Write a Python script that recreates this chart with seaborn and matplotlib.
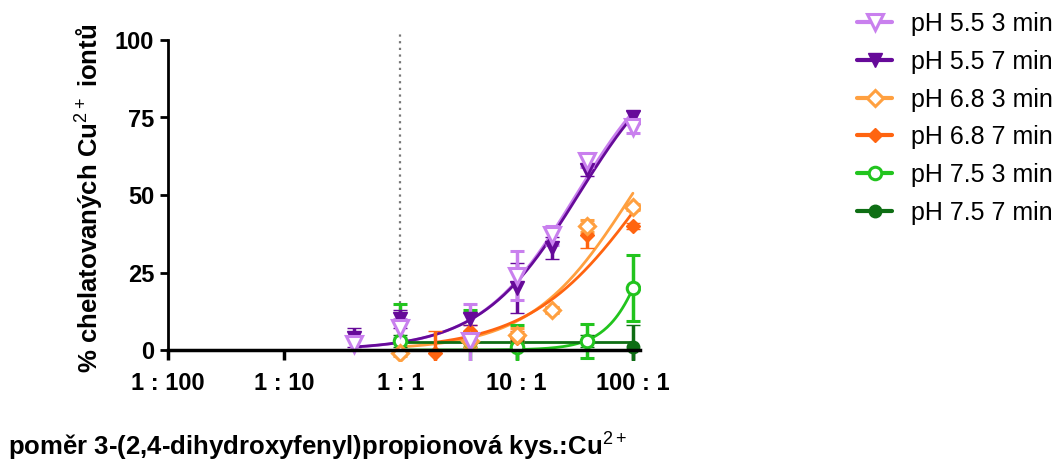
import numpy as np
import matplotlib
matplotlib.use("Agg")
import matplotlib.pyplot as plt
from matplotlib.lines import Line2D
import seaborn as sns

# ---- data (ratio acid:Cu2+, % chelated) ----
labels = ["pH 5.5 3 min", "pH 5.5 7 min", "pH 6.8 3 min",
          "pH 6.8 7 min", "pH 7.5 3 min", "pH 7.5 7 min"]

x_55_3 = [0.4, 1, 4, 10, 20, 40, 100]
y_55_3 = [2, 7, 3, 24, 37, 61, 72]
e_55_3 = [2, 3, 12, 8, 3, 2, 2]

x_55_7 = [0.4, 1, 4, 10, 20, 40, 100]
y_55_7 = [4, 10, 10, 20, 33, 58, 75]
e_55_7 = [3, 3, 2, 8, 3.5, 2, 2]

x_68_3 = [1, 4, 10, 20, 40, 100]
y_68_3 = [-1, 3, 5, 13, 40, 46]
e_68_3 = [1, 2, 2, 1, 2, 1]

x_68_7 = [2, 4, 10, 20, 40, 100]
y_68_7 = [-1, 6, 4, 13, 37, 40]
e_68_7 = [7, 2, 2, 1, 4, 1]

x_75_3 = [1, 4, 10, 40, 100]
y_75_3 = [3, 3, 1, 3, 20]
e_75_3 = [12, 10, 7, 5.5, 10.5]

x_75_7 = [1, 4, 10, 40, 100]
y_75_7 = [3, 3, 3, 3, 1]
e_75_7 = [2, 2, 2, 2, 7]

xs = [x_55_3, x_55_7, x_68_3, x_68_7, x_75_3, x_75_7]
ys = [y_55_3, y_55_7, y_68_3, y_68_7, y_75_3, y_75_7]
es = [e_55_3, e_55_7, e_68_3, e_68_7, e_75_3, e_75_7]
models = ["hill", "hill", "hill", "hill", "hill", "const"]

xtick_vals = [0.01, 0.1, 1, 10, 100]
xtick_labels = ["1 : 100", "1 : 10", "1 : 1", "10 : 1", "100 : 1"]
ytick_vals = [0, 25, 50, 75, 100]

# ---- styles ----
colors = ["#C980EE", "#660A99", "#FFA040", "#FF6410", "#22C41E", "#0E6E14"]
markers = ["v", "v", "D", "D", "o", "o"]
open_m = [True, False, True, False, True, False]
msizes = [11, 10, 8.5, 7.5, 9, 9]

sns.set_theme(style="ticks")
plt.rcParams["font.family"] = ["Liberation Sans", "DejaVu Sans"]
plt.rcParams["mathtext.fontset"] = "custom"
plt.rcParams["mathtext.rm"] = "Liberation Sans"
plt.rcParams["mathtext.default"] = "rm"
plt.rcParams["text.color"] = "black"
plt.rcParams["axes.labelcolor"] = "black"

W, H = 1059, 469
fig = plt.figure(figsize=(W / 100, H / 100), dpi=100)
ymin = -3.5
x_left, x_right = 168, 640
y0_px, y100_px = 350, 40
ppu = (y0_px - y100_px) / 100
bottom_px = y0_px - ymin * ppu
ax = fig.add_axes([x_left / W, 1 - bottom_px / H, (x_right - x_left) / W,
                   (bottom_px - y100_px) / H])
ax.set_xscale("log")
xr = 10 ** (2 + (x_right - 633) / 115)
ax.set_xlim(0.01, xr)
ax.set_ylim(ymin, 100)


def fit_hill(x, y):
    x = np.asarray(x, float)
    y = np.asarray(y, float)
    lec = np.linspace(-1, 4, 501)[:, None, None]
    hs = np.linspace(0.3, 5, 236)[None, :, None]
    pred = 100.0 / (1 + (10 ** lec / x[None, None, :]) ** hs)
    sse = ((pred - y[None, None, :]) ** 2).sum(axis=2)
    i, j = np.unravel_index(np.argmin(sse), sse.shape)
    return 10 ** lec[i, 0, 0], hs[0, j, 0]


# vertical dotted line at 1:1
ax.plot([1, 1], [0, 102], ls=(0, (1, 2)), color="#777777", lw=1.6,
        clip_on=False, zorder=1)

for k in range(6):
    x = np.asarray(xs[k], float)
    y = np.asarray(ys[k], float)
    xc = np.logspace(np.log10(x.min()), np.log10(x.max()), 200)
    if models[k] == "hill":
        ec, h = fit_hill(x, y)
        yc = 100.0 / (1 + (ec / xc) ** h)
    else:
        yc = np.full_like(xc, y.mean())
    sns.lineplot(x=xc, y=yc, color=colors[k], lw=2, ax=ax, legend=False,
                 zorder=3, sort=True)

for k in reversed(range(6)):
    c = colors[k]
    ax.errorbar(xs[k], ys[k], yerr=es[k], fmt=markers[k], ms=msizes[k],
                mfc="white" if open_m[k] else c, mec=c,
                mew=2.2 if open_m[k] else 1, ecolor=c, elinewidth=2.5,
                capsize=4.8, capthick=2.5, ls="none", zorder=4,
                clip_on=True)

# spines and ticks
for s in ["top", "right"]:
    ax.spines[s].set_visible(False)
ax.spines["bottom"].set_position(("data", 0))
ax.spines["left"].set_bounds(0, 100)
ax.spines["left"].set_linewidth(2)
ax.spines["bottom"].set_linewidth(2.5)
ax.spines["left"].set_color("black")
ax.spines["bottom"].set_color("black")
ax.spines["bottom"].set_zorder(5)
ax.set_xticks(xtick_vals)
ax.set_xticklabels(xtick_labels)
ax.xaxis.set_minor_locator(matplotlib.ticker.NullLocator())
ax.set_yticks(ytick_vals)
ax.set_yticklabels([str(v) for v in ytick_vals])
ax.tick_params(axis="x", direction="out", length=7, width=2.5, pad=9,
               labelsize=17, colors="black")
ax.tick_params(axis="y", direction="out", length=6, width=2, pad=4,
               labelsize=17, colors="black")
for t in ax.get_xticklabels() + ax.get_yticklabels():
    t.set_fontweight("bold")
ax.set_xlabel("")
ax.set_ylabel("")

fig.text(90 / W, 1 - 198 / H, "% chelatovaných Cu$^{2+}$ iontů",
         rotation=90, ha="center", va="center", fontsize=18.5,
         fontweight="bold")
fig.text(318 / W, 1 - 447 / H,
         "poměr 3-(2,4-dihydroxyfenyl)propionová kys.:Cu$^{2+}$",
         ha="center", va="center", fontsize=18.5, fontweight="bold")

handles = []
for k in range(6):
    c = colors[k]
    handles.append(Line2D([0], [0], color=c, lw=3, marker=markers[k],
                          ms=msizes[k], mfc="white" if open_m[k] else c,
                          mec=c, mew=2.2 if open_m[k] else 1))
fig.legend(handles, labels, loc="upper left",
           bbox_to_anchor=(857 / W, 1 - 12 / H), frameon=False, fontsize=18,
           handlelength=1.4, handletextpad=0.75, labelspacing=0.55,
           borderaxespad=0, borderpad=0, labelcolor="black")

fig.savefig("out.png", dpi=100)
